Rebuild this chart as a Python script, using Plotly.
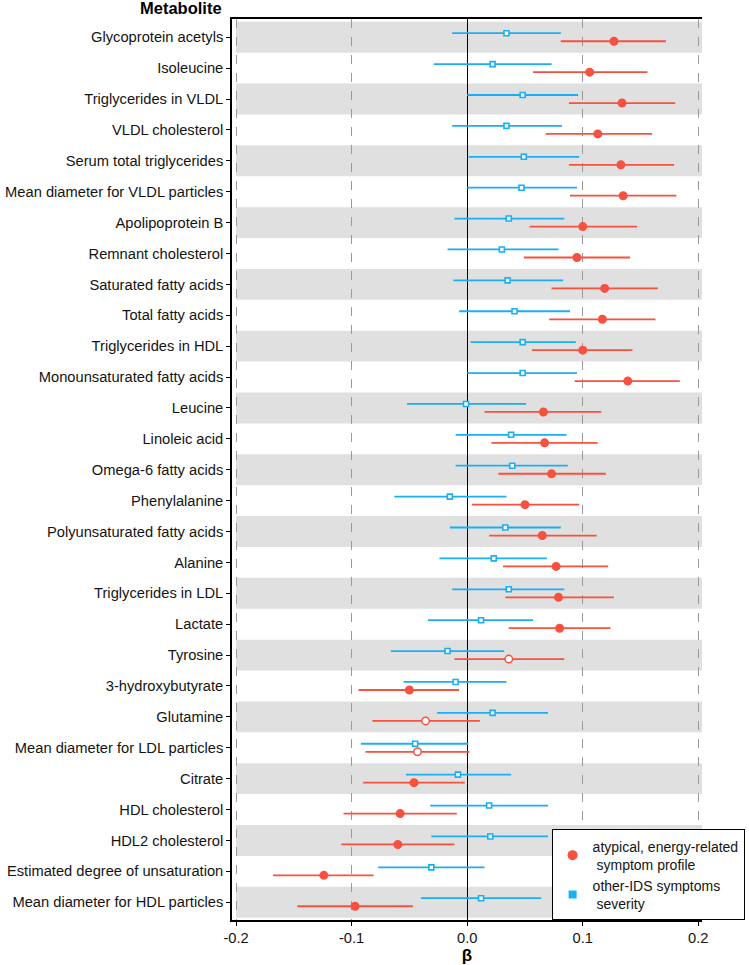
import numpy as np
import plotly.graph_objects as go

metabolites = [
    "Glycoprotein acetyls", "Isoleucine", "Triglycerides in VLDL", "VLDL cholesterol",
    "Serum total triglycerides", "Mean diameter for VLDL particles", "Apolipoprotein B",
    "Remnant cholesterol", "Saturated fatty acids", "Total fatty acids",
    "Triglycerides in HDL", "Monounsaturated fatty acids", "Leucine", "Linoleic acid",
    "Omega-6 fatty acids", "Phenylalanine", "Polyunsaturated fatty acids", "Alanine",
    "Triglycerides in LDL", "Lactate", "Tyrosine", "3-hydroxybutyrate", "Glutamine",
    "Mean diameter for LDL particles", "Citrate", "HDL cholesterol", "HDL2 cholesterol",
    "Estimated degree of unsaturation", "Mean diameter for HDL particles",
]

# atypical, energy-related symptom profile
atyp_beta = [0.127, 0.106, 0.134, 0.113, 0.133, 0.135, 0.100, 0.095, 0.119, 0.117,
             0.100, 0.139, 0.066, 0.067, 0.073, 0.050, 0.065, 0.077, 0.079, 0.080,
             0.036, -0.050, -0.036, -0.043, -0.046, -0.058, -0.060, -0.124, -0.097]
atyp_lo = [0.081, 0.057, 0.088, 0.068, 0.088, 0.089, 0.054, 0.049, 0.073, 0.071,
           0.056, 0.093, 0.015, 0.021, 0.027, 0.004, 0.019, 0.031, 0.033, 0.036,
           -0.011, -0.094, -0.082, -0.088, -0.090, -0.107, -0.109, -0.168, -0.147]
atyp_hi = [0.172, 0.156, 0.180, 0.160, 0.179, 0.181, 0.147, 0.141, 0.165, 0.163,
           0.143, 0.184, 0.116, 0.113, 0.120, 0.097, 0.112, 0.122, 0.127, 0.124,
           0.084, -0.007, 0.011, 0.002, -0.002, -0.009, -0.011, -0.081, -0.047]
atyp_sig = [True] * 20 + [False, True, False, False, True, True, True, True, True]

# other-IDS symptoms severity
ids_beta = [0.034, 0.022, 0.048, 0.034, 0.049, 0.047, 0.036, 0.030, 0.035, 0.041,
            0.048, 0.048, -0.001, 0.038, 0.039, -0.015, 0.033, 0.023, 0.036, 0.012,
            -0.017, -0.010, 0.022, -0.045, -0.008, 0.019, 0.020, -0.031, 0.012]
ids_lo = [-0.013, -0.029, 0.000, -0.013, 0.001, 0.000, -0.011, -0.017, -0.012, -0.007,
          0.003, 0.000, -0.052, -0.010, -0.010, -0.063, -0.015, -0.024, -0.013, -0.034,
          -0.066, -0.055, -0.026, -0.092, -0.053, -0.032, -0.031, -0.077, -0.040]
ids_hi = [0.081, 0.073, 0.096, 0.082, 0.097, 0.095, 0.084, 0.079, 0.083, 0.089,
          0.094, 0.095, 0.051, 0.086, 0.087, 0.034, 0.081, 0.069, 0.084, 0.057,
          0.032, 0.034, 0.070, 0.001, 0.038, 0.070, 0.070, 0.015, 0.064]

RED = "#F7513F"
BLUE = "#1AAEF4"

n = len(metabolites)
pos = np.arange(n, 0, -1)
off = 0.13

a_b, a_lo, a_hi = np.array(atyp_beta), np.array(atyp_lo), np.array(atyp_hi)
i_b, i_lo, i_hi = np.array(ids_beta), np.array(ids_lo), np.array(ids_hi)

fig = go.Figure()

fig.add_trace(go.Scatter(
    x=i_b, y=pos + off, mode="markers", showlegend=False,
    marker=dict(symbol="square", size=5, color="white", line=dict(color=BLUE, width=1.6)),
    error_x=dict(type="data", array=i_hi - i_b, arrayminus=i_b - i_lo,
                 color=BLUE, thickness=1.8, width=0),
))
fig.add_trace(go.Scatter(
    x=a_b, y=pos - off, mode="markers", showlegend=False,
    marker=dict(symbol="circle", size=7.5,
                color=[RED if s else "white" for s in atyp_sig],
                line=dict(color=RED, width=1.5)),
    error_x=dict(type="data", array=a_hi - a_b, arrayminus=a_b - a_lo,
                 color=RED, thickness=1.8, width=0),
))

# legend-only entries (filled symbols like the original)
fig.add_trace(go.Scatter(x=[None], y=[None], mode="markers",
                         name="atypical, energy-related<br>\u00a0symptom profile",
                         marker=dict(symbol="circle", size=10, color=RED)))
fig.add_trace(go.Scatter(x=[None], y=[None], mode="markers",
                         name="other-IDS symptoms<br>\u00a0severity",
                         marker=dict(symbol="square", size=8, color=BLUE)))

# alternating grey bands
for k in range(0, n, 2):
    fig.add_shape(type="rect", xref="x", yref="y", x0=-0.2, x1=0.2032,
                  y0=pos[k] - 0.5, y1=pos[k] + 0.5,
                  fillcolor="#E0E0E0", line_width=0, layer="below")

fig.add_annotation(text="<b>Metabolite</b>", xref="paper", yref="paper",
                   x=0, y=1, xanchor="right", yanchor="bottom", xshift=-8, yshift=0,
                   showarrow=False, font=dict(size=16.5, color="black"))

fig.update_layout(
    width=749, height=965,
    margin=dict(l=232, r=47, t=19, b=45, autoexpand=False),
    plot_bgcolor="white", paper_bgcolor="white",
    font=dict(family="Liberation Sans, Arial", size=14.7, color="#141414"),
    xaxis=dict(range=[-0.2035, 0.2032], tickvals=[-0.2, -0.1, 0.0, 0.1, 0.2],
               ticktext=["-0.2", "-0.1", "0.0", "0.1", "0.2"],
               showgrid=True, gridcolor="#9A9A9A", griddash="dash", gridwidth=1,
               zeroline=True, zerolinecolor="black", zerolinewidth=1.3,
               showline=True, linecolor="black", linewidth=1.5, mirror=True,
               ticks="outside", ticklen=4, tickcolor="black",
               title=dict(text="<b>β</b>", font=dict(size=17, color="black"), standoff=2)),
    yaxis=dict(range=[0.425, 29.59], tickvals=pos, ticktext=metabolites,
               showgrid=False, zeroline=False, automargin=False,
               showline=True, linecolor="black", linewidth=1.5,
               ticks="outside", ticklen=4, tickcolor="black"),
    legend=dict(x=0.68, y=0.05, xanchor="left", yanchor="middle",
                bordercolor="black", borderwidth=1, bgcolor="white",
                font=dict(size=14, color="#141414"), tracegroupgap=0,
                itemwidth=30),
)

fig.write_html("out.html", config={"displayModeBar": False},
               post_script="document.body.style.margin = '0px';")
